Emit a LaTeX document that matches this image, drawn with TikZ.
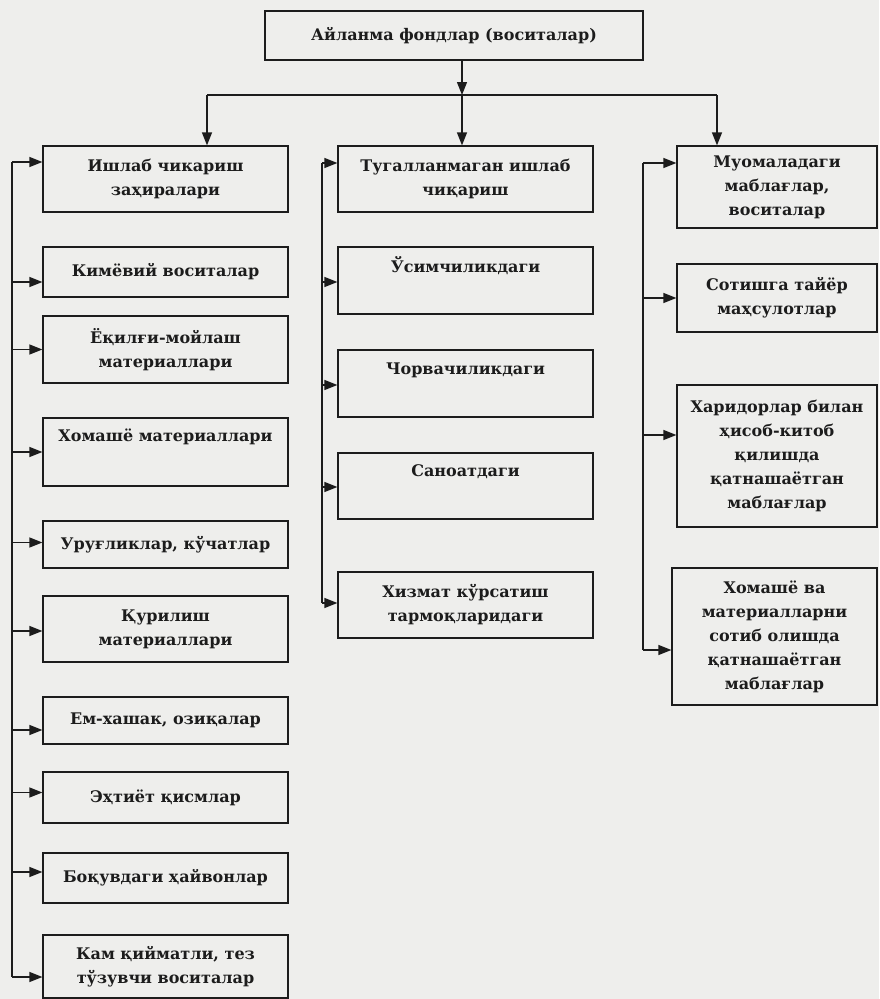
\documentclass[tikz,border=0pt]{standalone}
\usepackage{fontspec}
\setmainfont{DejaVu Serif}
\usetikzlibrary{arrows.meta}
\definecolor{paper}{RGB}{238,238,236}
\definecolor{ink}{RGB}{28,28,28}
\begin{document}
\begin{tikzpicture}[x=1pt,y=-1pt,
  box/.style={draw=ink, line width=1.2pt, align=center, inner sep=0pt, text=ink,
    font=\bfseries\fontsize{16}{24}\selectfont},
  hi/.style={text height=12pt, text depth=#1},
  arr/.style={draw=ink, line width=1.2pt, -{Triangle[length=13pt,width=10pt]}},
  ln/.style={draw=ink, line width=1.2pt}]
\fill[paper] (0,0) rectangle (879,999);
\useasboundingbox (0,0) rectangle (879,999);

% top
\node[box, minimum width=378pt, minimum height=49pt] (top) at (454,35.5) {Айланма фондлар (воситалар)};

% left column
\begin{scope}[every node/.style={box, minimum width=245pt}]
\node[minimum height=66pt] (L1) at (165.5,179) {Ишлаб чикариш\\заҳиралари};
\node[minimum height=50pt] (L2) at (165.5,272) {Кимёвий воситалар};
\node[minimum height=67pt] (L3) at (165.5,349.5) {Ёқилғи-мойлаш\\материаллари};
\node[minimum height=68pt, hi=34pt] (L4) at (165.5,452) {Хомашё материаллари};
\node[minimum height=47pt] (L5) at (165.5,544.5) {Уруғликлар, кўчатлар};
\node[minimum height=66pt] (L6) at (165.5,629) {Қурилиш\\материаллари};
\node[minimum height=47pt] (L7) at (165.5,720.5) {Ем-хашак, озиқалар};
\node[minimum height=51pt] (L8) at (165.5,797.5) {Эҳтиёт қисмлар};
\node[minimum height=50pt] (L9) at (165.5,878) {Боқувдаги ҳайвонлар};
\node[minimum height=63pt] (L10) at (165.5,966.5) {Кам қийматли, тез\\тўзувчи воситалар};
\end{scope}

% middle column
\begin{scope}[every node/.style={box, minimum width=255pt}]
\node[minimum height=66pt] (M1) at (465.5,179) {Тугалланмаган ишлаб\\чиқариш};
\node[minimum height=67pt, hi=28pt] (M2) at (465.5,280.5) {Ўсимчиликдаги};
\node[minimum height=67pt, hi=30pt] (M3) at (465.5,383.5) {Чорвачиликдаги};
\node[minimum height=66pt, hi=32pt] (M4) at (465.5,486) {Саноатдаги};
\node[minimum height=66pt] (M5) at (465.5,605) {Хизмат кўрсатиш\\тармоқларидаги};
\end{scope}

% right column
\begin{scope}[every node/.style={box, minimum width=200pt}]
\node[minimum height=82pt] (R1) at (777,187) {Муомаладаги\\маблағлар,\\воситалар};
\node[minimum height=68pt] (R2) at (777,298) {Сотишга тайёр\\маҳсулотлар};
\node[minimum height=142pt] (R3) at (777,456) {Харидорлар билан\\ҳисоб-китоб\\қилишда\\қатнашаётган\\маблағлар};
\node[minimum height=137pt, minimum width=205pt] (R4) at (774.5,636.5) {Хомашё ва\\материалларни\\сотиб олишда\\қатнашаётган\\маблағлар};
\end{scope}

% top distribution
\coordinate (hL) at (207,95);
\coordinate (hM) at (462,95);
\coordinate (hR) at (717,95);
\draw[ln] (hL) -- (hR);
\draw[arr] (top.south -| hM) -- (hM);
\draw[arr] (hL) -- (hL |- L1.north);
\draw[arr] (hM) -- (hM |- M1.north);
\draw[arr] (hR) -- (hR |- R1.north);

% left trunk
\coordinate (lt) at (12,162);
\coordinate (lb) at (12,977);
\draw[ln] (lt) -- (lb);
\foreach \n/\d in {L1/17,L2/-10,L3/0,L4/0,L5/2,L6/-2,L7/-9.5,L8/5,L9/6,L10/-10.5}{
  \path ([yshift=\d pt]\n.west) coordinate (tmp);
  \draw[arr] (tmp -| lt) -- (tmp);
}

% middle trunk
\coordinate (mt) at (322,163);
\coordinate (mb) at (322,603);
\draw[ln] (mt) -- (mb);
\foreach \n/\d in {M1/16,M2/-1.5,M3/-1.5,M4/-1,M5/2}{
  \path ([yshift=\d pt]\n.west) coordinate (tmp);
  \draw[arr] (tmp -| mt) -- (tmp);
}

% right trunk
\coordinate (rt) at (643,163);
\coordinate (rb) at (643,650);
\draw[ln] (rt) -- (rb);
\foreach \n/\d in {R1/24,R2/0,R3/21,R4/-13.5}{
  \path ([yshift=\d pt]\n.west) coordinate (tmp);
  \draw[arr] (tmp -| rt) -- (tmp);
}
\end{tikzpicture}
\end{document}
